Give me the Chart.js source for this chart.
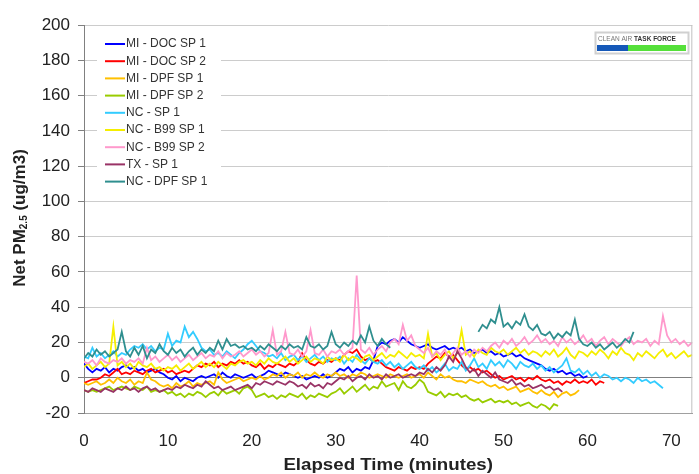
<!DOCTYPE html>
<html>
<head>
<meta charset="utf-8">
<script src="https://cdn.jsdelivr.net/npm/chart.js@4/dist/chart.umd.min.js"></script>
<style>
  html, body { margin: 0; padding: 0; background: #fff; }
  canvas { display: block; }
</style>
</head>
<body>
<canvas id="chart" width="699" height="474"></canvas>
<script>
// logging interval, minutes
const STEP = 0.5;

const seriesLabels = [
  "MI - DOC SP 1", "MI - DOC SP 2", "MI - DPF SP 1", "MI - DPF SP 2", "NC - SP 1",
  "NC - B99 SP 1", "NC - B99 SP 2", "TX - SP 1", "NC - DPF SP 1"
];
const seriesColors = [
  "#0000FF", "#FF0000", "#FFC000", "#99CC00", "#33CCFF",
  "#F5EE00", "#FF99CC", "#993366", "#2F8F8F"
];

const xTickValues = [0, 10, 20, 30, 40, 50, 60, 70];
const yTickValues = [-20, 0, 20, 40, 60, 80, 100, 120, 140, 160, 180, 200];

// Net PM2.5 (ug/m3), one value every STEP minutes from t = 0
const miDocSp1 = [
  8, 5, 3, 5, 4, 6, 3, 5, 4, 6,
  7, 5, 6, 4, 5, 3, 4, 5, 3, 2,
  0, -1, 1, -2, 0, -1, -2, 0, 1, 0,
  1, 2, 0, 3, 1, 0, 2, 1, 0, 1,
  2, 0, 1, 2, 4, 3, 2, 1, 3, 2,
  1, 0, 1, -1, 0, 1, 0, 2, 0, 1,
  3, 5, 4, 6, 3, 5, 4, 6, 5, 10,
  18, 20, 19, 21, 22, 20, 23, 21, 19, 18,
  17, 18, 19, 17, 16, 17, 18, 16, 17, 16,
  17, 15, 16, 14, 15, 16, 14, 15, 13, 14,
  12, 13, 14, 12, 13, 11, 10, 9, 8, 7,
  5, 4, 5, 3, 4, 2, 3, 1, 2, 0,
  1
];
const miDocSp2 = [
  -3, -2, -1, -1, 0, 2, 1, 3, 5, 2,
  3, 2, 4, 3, 2, 4, 5, 3, 4, 5,
  3, 4, 2, 3, 4, 3, 5, 7, 6, 8,
  7, 9, 6, 8, 7, 9, 8, 10, 8, 9,
  7, 6, 8, 5, 7, 6, 8, 7, 6, 8,
  7, 9, 14, 10, 8, 7, 9, 8, 10, 9,
  11, 10, 13, 15, 14, 16, 12, 10, 11, 9,
  10, 8, 6, 5, 4, 6, 5, 4, 6, 5,
  6, 5, 8, 10, 12, 11, 14, 12, 13, 10,
  7, 5, 6, 4, 5, 3, 4, 2, 0, 1,
  -1, 0, 1, -1, 0, -2, 0, -1, 1, -1,
  -2, -1, -3, -2, -4, -2, -3, -1, -3, -2,
  -3, -1, -4, -2, -3
];
const miDpfSp1 = [
  -3, -4, -3, -2, -4, -3, -1, -3, 0, -2,
  -3, -1, -4, -2, -3, 3, -1, -2, -4, -5,
  -4, -6, -3, -5, -4, -2, -5, -3, -4, -3,
  -2, -4, 3, -1, -3, -2, -1, 0, -2, -1,
  0, -1, 1, -1, 0, 2, 1, 3, 0, 2,
  1, 3, 0, 2, 1, 3, 1, 0, 2, 1,
  3, 1, 2, 0, 2, 1, 3, 2, 0, 1,
  2, 1, 0, 2, 1, 0, 1, 2, 0, 1,
  2, 0, 3, 1, -1, 2, 0, 1, -1, -2,
  -2, -3, -1, -2, -3, -2, -4, -5, -4, -6,
  -5, -7, -6, -5, -8, -7, -6, -8, -9, -7,
  -9, -10, -8, -11, -9, -8, -10, -9,
  -7
];
const miDpfSp2 = [
  -7, -8, -7, -8, -7, -6, -5, -7, -6, -5,
  -6, -7, -5, -6, -7, -5, -8, -7, -8, -7,
  -9, -8, -10, -9, -11, -9, -10, -8, -9, -11,
  -9, -8, -10, -7, -9, -8, -7, -9, -6, -5,
  -7, -11, -10, -9, -11, -10, -12, -10, -11, -9,
  -10, -11, -9, -12, -10, -11, -9, -10, -11, -9,
  -8, -6, -9, -7, -5, -8, -6, -4, -7, -5,
  -6, -2, -5, -4, -3, -7, -2, -5, -6, -4,
  -1, -3, -8, -9, -10, -8, -11, -9, -10, -9,
  -11, -10, -12, -13, -12, -14, -13, -12, -14, -13,
  -14, -13, -15, -14, -16, -15, -14, -16, -17, -15,
  -16, -18, -15, -16
];
const ncSp1 = [
  12, 11, 17, 12, 14, 11, 13, 15, 12, 14,
  13, 16, 18, 17, 19, 16, 18, 15, 17, 16,
  25, 18, 21, 20, 29, 23, 26, 22, 17, 15,
  16, 13, 14, 12, 15, 13, 11, 14, 16, 19,
  21, 18, 15, 14, 12, 13, 11, 14, 10, 12,
  13, 10, 12, 9, 11, 13, 10, 12, 9, 11,
  10, 12, 8, 11, 9, 13, 10, 8, 11, 9,
  8, 10, 7, 9, 6, 8, 5, 7, 9, 6,
  5, 7, 4, 6, 3, 5, 8, 4, 6, 5,
  9, 4, 7, 11, 6, 8, 5, 10, 7, 9,
  6, 10, 8, 5, 9, 7, 6, 8, 5, 7,
  4, 6, 3, 5, 7, 11, 4, 3, 5, 2,
  4, 1, 3, 0, 2, 1, -1, 0, -2, 0,
  -1, -3, 0, -2, -1, -3, -2, -4, -6
];
const ncB99Sp1 = [
  6, 8, 5, 7, 9, 6, 8, 29, 7, 9,
  6, 8, 5, 9, 7, 6, 8, 5, 6, 4,
  6, 5, 7, 4, 6, 8, 5, 7, 9, 6,
  8, 6, 9, 7, 5, 8, 7, 9, 10, 8,
  9, 7, 10, 8, 11, 9, 8, 10, 12, 9,
  11, 8, 10, 12, 9, 11, 10, 8, 12, 10,
  11, 9, 13, 10, 12, 11, 9, 12, 13, 10,
  12, 14, 11, 13, 12, 15, 13, 11, 14, 12,
  13, 11, 25, 12, 14, 10, 13, 15, 11, 14,
  27, 13, 15, 12, 16, 14, 13, 17, 15, 14,
  16, 13, 15, 17, 14, 16, 13, 15, 14, 12,
  15, 13, 16, 12, 14, 17, 13, 11, 15, 14,
  12, 15, 13, 16, 14, 11, 15, 13, 17, 14,
  13, 10, 14, 12, 15, 13, 11, 14, 16, 12,
  14, 11, 13, 15, 12, 13
];
const ncB99Sp2 = [
  9, 8, 10, 7, 11, 9, 8, 10, 9, 11,
  8, 10, 9, 11, 8, 17, 10, 12, 9, 11,
  13, 10, 12, 9, 11, 13, 10, 12, 14, 11,
  13, 12, 15, 11, 14, 12, 13, 15, 12, 14,
  16, 13, 15, 12, 14, 27, 13, 15, 26, 14,
  13, 16, 12, 15, 27, 14, 13, 16, 12, 15,
  14, 16, 13, 15, 17, 58, 16, 14, 17, 13,
  16, 18, 15, 20, 22, 19, 30, 21, 24, 18,
  16, 14, 17, 12, 15, 13, 16, 11, 14, 17,
  13, 15, 12, 16, 14, 17, 15, 18, 20, 17,
  21, 19, 22, 18, 20, 23, 19, 21, 24, 20,
  22, 19, 21, 18, 23, 20, 22, 19, 21, 24,
  20, 22, 18, 21, 23, 19, 22, 20, 18, 21,
  23, 19, 21, 20, 22, 18, 21, 19, 35, 24,
  20, 22, 19, 21, 18, 20
];
const txSp1 = [
  -7, -8, -6, -7, -8, -6, -7, -8, -6, -7,
  -5, -7, -6, -8, -6, -5, -7, -6, -8, -7,
  -6, -7, -5, -6, -4, -5, -6, -4, -5, -2,
  -4, -6, -5, -7, -6, -5, -7, -6, -5, -4,
  -6, -3, -4, -2, -3, -4, -2, -3, -4, -2,
  -3, -5, -4, -6, -3, -5, -4, -6, -3, -4,
  -2, 0, -1, 1, -2, 0, 1, -1, 2, 0,
  1, -1, 2, 0, 1, 2, 0, 1, 2, 1,
  3, 2, 5, 3, 6, 4, 7, 12, 9, 15,
  11, 6, 3, 5, 1, 4, 2, 0, 3, -1,
  -2, -3, -1, -4, -3, -5, -4, -6, -5, -4,
  -6, -5, -7, -6, -8
];
const ncDpfSp1 = [
  11, 14, 12, 16, 13, 15, 12, 14, 16, 26,
  15, 12, 17, 13, 18, 11, 16, 14, 19, 15,
  13, 17, 14, 16, 12, 15, 17, 13, 16, 14,
  17, 15, 21, 16, 22, 18, 19, 17, 18, 16,
  17, 15, 18, 16, 19, 17, 15, 18, 16, 19,
  17, 18, 16, 23, 18, 17, 19, 16, 18, 26,
  19, 17, 20, 18, 21, 19, 24, 20, 29, 21,
  18, 22, 19, 17, null, null, null, null, null, null,
  null, null, null, null, null, null, null, null, null, null,
  null, null, null, null, 26, 30, 28, 33, 31, 40,
  29, 31, 28, 32, 30, 36, 29, 27, 30, 25,
  24, 26, 22, 25, 23, 26, 24, 33, 22, 19,
  18, 20, 17, 19, 16, 18, 20, 17, 19, 22,
  20, 26
];

const seriesValues = [
  miDocSp1, miDocSp2, miDpfSp1, miDpfSp2, ncSp1,
  ncB99Sp1, ncB99Sp2, txSp1, ncDpfSp1
];

const FONT = "'Liberation Sans', Arial, sans-serif";
Chart.defaults.font.family = FONT;

// Legend, axis titles, logo and right border drawn by hand
const decorations = {
  id: "decorations",
  afterDraw(chart) {
    const { ctx, chartArea } = chart;
    ctx.save();

    // right edge of plot area
    ctx.strokeStyle = "#C0C0C0";
    ctx.lineWidth = 1;
    ctx.beginPath();
    ctx.moveTo(chartArea.right - 0.5, chartArea.top);
    ctx.lineTo(chartArea.right - 0.5, chartArea.bottom);
    ctx.stroke();

    // legend
    ctx.fillStyle = "#FFFFFF";
    ctx.fillRect(97, 35, 124, 156);
    ctx.font = "12px " + FONT;
    ctx.textBaseline = "middle";
    seriesLabels.forEach((label, i) => {
      const y = 44 + i * 17.2;
      ctx.strokeStyle = seriesColors[i];
      ctx.lineWidth = 2;
      ctx.beginPath();
      ctx.moveTo(105, y);
      ctx.lineTo(125, y);
      ctx.stroke();
      ctx.fillStyle = "#333";
      ctx.fillText(label, 126, y);
    });

    // logo
    ctx.fillStyle = "#FFFFFF";
    ctx.fillRect(595, 32, 93, 21);
    ctx.strokeStyle = "#D0D0D0";
    ctx.strokeRect(595.5, 32.5, 93, 21);
    ctx.font = "6.5px " + FONT;
    ctx.fillStyle = "#777";
    ctx.fillText("CLEAN AIR", 598, 39);
    const w = ctx.measureText("CLEAN AIR ").width;
    ctx.font = "bold 6.5px " + FONT;
    ctx.fillStyle = "#333";
    ctx.fillText("TASK FORCE", 598 + w, 39);
    ctx.fillStyle = "#1558B8";
    ctx.fillRect(597, 45, 31, 6);
    ctx.fillStyle = "#55E03A";
    ctx.fillRect(628, 45, 58, 6);

    // x title, slightly wide like the source
    ctx.save();
    ctx.fillStyle = "#222";
    ctx.font = "bold 17px " + FONT;
    ctx.textAlign = "center";
    ctx.translate((chartArea.left + chartArea.right) / 2, 465);
    ctx.scale(1.1, 1);
    ctx.fillText("Elapsed Time (minutes)", 0, 0);
    ctx.restore();

    // y title with subscript
    ctx.translate(20, 218);
    ctx.rotate(-Math.PI / 2);
    ctx.fillStyle = "#222";
    ctx.textAlign = "left";
    const big = "bold 17px " + FONT;
    const small = "bold 10px " + FONT;
    ctx.font = big;
    const a = ctx.measureText("Net PM").width;
    const c = ctx.measureText(" (ug/m3)").width;
    ctx.font = small;
    const b = ctx.measureText("2.5").width;
    let x = -(a + b + c) / 2;
    ctx.font = big;
    ctx.fillText("Net PM", x, 0);
    x += a;
    ctx.font = small;
    ctx.fillText("2.5", x, 4);
    x += b;
    ctx.font = big;
    ctx.fillText(" (ug/m3)", x, 0);

    ctx.restore();
  }
};

const ctx = document.getElementById("chart").getContext("2d");

new Chart(ctx, {
  type: "line",
  data: {
    datasets: seriesLabels.map((label, i) => ({
      label: label,
      data: seriesValues[i].map((v, j) => ({ x: j * STEP, y: v })),
      borderColor: seriesColors[i],
      backgroundColor: seriesColors[i],
      borderWidth: 1.8,
      pointRadius: 0,
      tension: 0,
      fill: false,
      spanGaps: false,
      order: seriesLabels.length - 1 - i,
    })),
  },
  options: {
    responsive: false,
    animation: false,
    layout: { padding: { top: 25, right: 6, left: 0, bottom: 0 } },
    plugins: {
      legend: { display: false },
      tooltip: { enabled: false },
    },
    scales: {
      x: {
        type: "linear",
        min: 0,
        max: 72.5,
        afterBuildTicks: (scale) => {
          scale.ticks = xTickValues.map((v) => ({ value: v }));
        },
        afterFit: (scale) => {
          scale.height = 61;
        },
        grid: { display: false, drawTicks: false },
        border: { display: true, color: "#A0A0A0", width: 1 },
        ticks: {
          padding: 18,
          color: "#222",
          font: { size: 17 },
          maxRotation: 0,
        },
      },
      y: {
        min: -20,
        max: 200,
        afterBuildTicks: (scale) => {
          scale.ticks = yTickValues.map((v) => ({ value: v }));
        },
        afterFit: (scale) => {
          scale.width = 84;
        },
        grid: {
          color: (c) => (c.tick && c.tick.value === 0 ? "#808080" : c.tick && c.tick.value === -20 ? "#A0A0A0" : "#CCCCCC"),
          lineWidth: 1,
          tickLength: 6,
          tickColor: "#808080",
        },
        border: { display: true, color: "#808080", width: 1 },
        ticks: {
          padding: 8,
          color: "#222",
          font: { size: 17 },
        },
      },
    },
  },
  plugins: [decorations],
});
</script>
</body>
</html>
